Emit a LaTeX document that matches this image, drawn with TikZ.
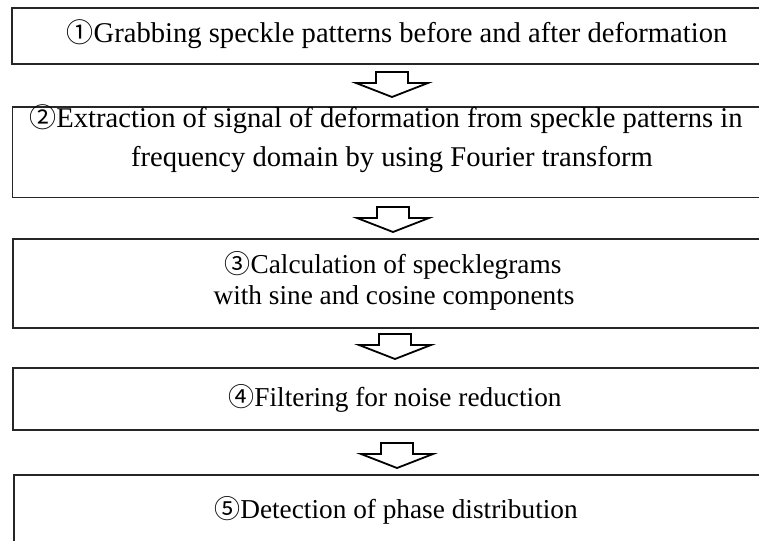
\documentclass[tikz,border=0pt]{standalone}
\usepackage{fontspec}
\setmainfont{Liberation Serif}
\newfontfamily\circfont{Noto Sans CJK JP}
\tikzset{
  stepframe/.style={draw=black!85, line width=1.3pt},
  steptext/.style={anchor=base, inner sep=0pt, font=\fontsize{28.6}{32}\selectfont, align=center},
  smalltext/.style={steptext, font=\fontsize{27.3}{31}\selectfont},
  flowarrow/.style={draw=black, line width=1.8pt, fill=white, line join=miter}
}
\newcommand{\circnum}[1]{{\circfont\fontsize{27}{27}\selectfont #1}}
\newcommand{\circsmall}[1]{{\circfont\fontsize{26}{26}\selectfont #1}}
\newcommand{\blockarrow}[3]{% center x, top y, name
  \draw[flowarrow] (#1-16,#2) coordinate (#3) -- (#1+16,#2) -- (#1+16,#2+11) -- (#1+36,#2+11)
     -- (#1,#2+25) -- (#1-36,#2+11) -- (#1-16,#2+11) -- cycle;}
\begin{document}
\begin{tikzpicture}[x=1pt,y=-1pt]
\useasboundingbox (0,0) rectangle (759,540);
\clip (0,0) rectangle (759,540);
% boxes
\draw[stepframe] (12,8) rectangle (790,64);
\draw[stepframe] (12.5,107) rectangle (790,197.5);
\draw[stepframe] (13,239) rectangle (790,328);
\draw[stepframe] (13,368) rectangle (790,430);
\draw[stepframe] (14,475) rectangle (790,600);
% texts
\node[steptext] (t1) at (397,43) {\circnum{①}Grabbing speckle patterns before and after deformation};
\node[steptext] (t2a) at (386,128) {\circnum{②}Extraction of signal of deformation from speckle patterns in};
\node[steptext] (t2b) at (392,167) {frequency domain by using Fourier transform};
\node[smalltext] (t3a) at (393,273) {\circsmall{③}Calculation of specklegrams};
\node[smalltext] (t3b) at (394,304) {with sine and cosine components};
\node[smalltext] (t4) at (395,406) {\circsmall{④}Filtering for noise reduction};
\node[smalltext] (t5) at (396,518) {\circsmall{⑤}Detection of phase distribution};
% arrows
\blockarrow{392}{72}{a1}
\blockarrow{393}{207}{a2}
\blockarrow{395}{334}{a3}
\blockarrow{397}{443}{a4}
\end{tikzpicture}
\end{document}
